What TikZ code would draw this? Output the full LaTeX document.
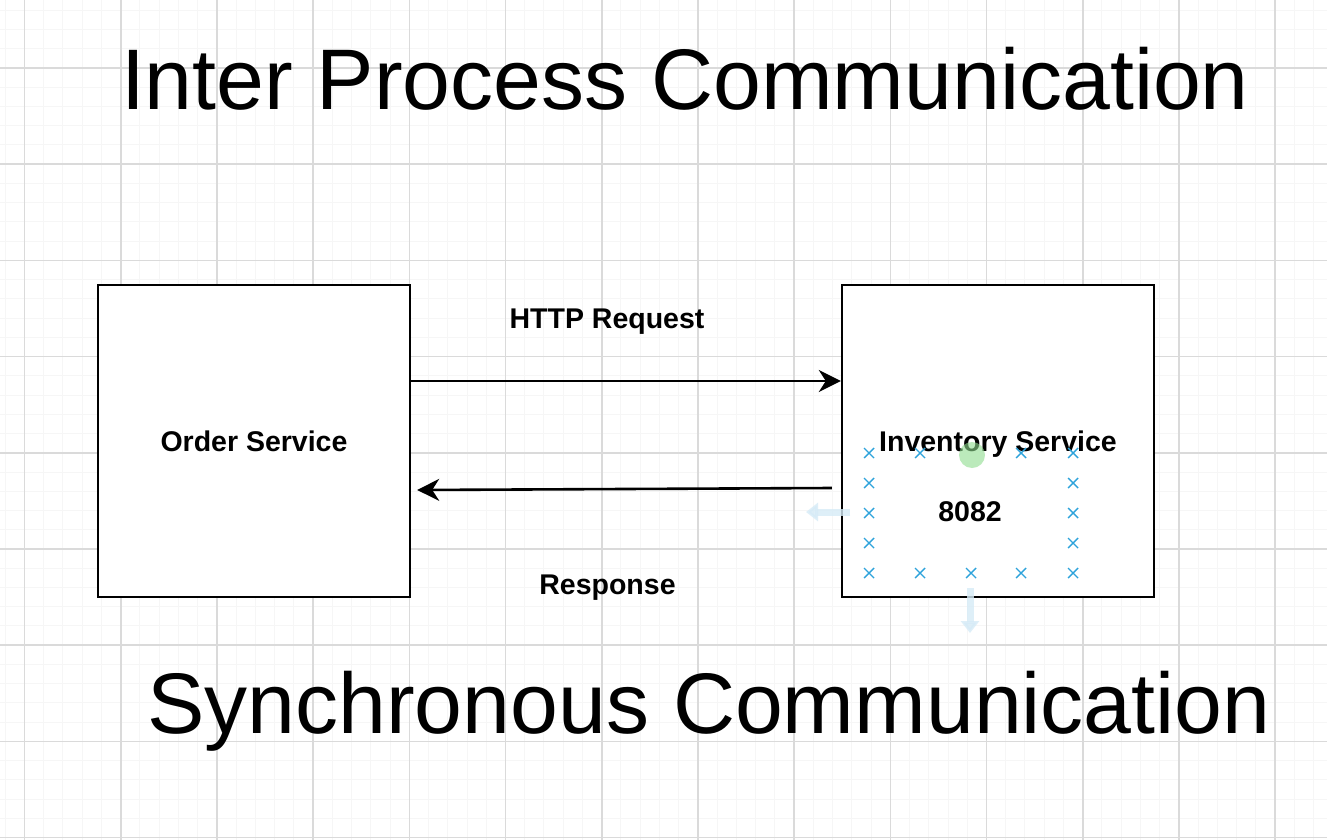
\documentclass[tikz,border=0pt]{standalone}
\usepackage{fontspec}
\setmainfont{Liberation Sans}
\usetikzlibrary{arrows.meta,positioning}
\definecolor{ink}{HTML}{000000}
\definecolor{gridmajor}{HTML}{DADADA}
\definecolor{gridminor}{HTML}{F6F6F6}
\definecolor{handle}{HTML}{2EA3DB}
\definecolor{ghost}{HTML}{D6EBF7}
\definecolor{hover}{HTML}{8FDC8F}
\tikzset{
  every picture/.style={x=1pt, y=-1pt, line width=2.4pt},
  service/.style={draw=ink, fill=white, minimum width=312pt, minimum height=312pt,
    inner sep=0pt, text depth=0pt, font=\fontsize{28.5}{34}\selectfont\bfseries},
  title/.style={font=\fontsize{86}{100}\selectfont, anchor=base, inner sep=0pt},
  lbl/.style={font=\fontsize{28.5}{34}\selectfont\bfseries, inner sep=0pt},
  arrow/.style={-{Stealth[length=22pt, width=22pt, inset=7pt]}, draw=ink, line width=2.6pt},
  minorline/.style={draw=gridminor, line width=1pt},
  majorline/.style={draw=gridmajor, line width=1.6pt},
  xmark/.style={draw=handle, line width=1.4pt},
  ghostarrow/.style={draw=ghost, line width=7pt, -{Triangle[length=12pt, width=18pt]}},
}

\begin{document}
\begin{tikzpicture}
  \useasboundingbox[fill=white] (0,0) rectangle (1327,840);
  % background grid
  \foreach \k in {-4,...,43} \draw[minorline] (0,68+19.24*\k) -- (1327,68+19.24*\k);
  \foreach \k in {-2,...,68} \draw[minorline] (24.5+19.24*\k,0) -- (24.5+19.24*\k,840);
  \foreach \k in {-1,...,8} \draw[majorline] (0,68+96.2*\k) -- (1327,68+96.2*\k);
  \foreach \k in {0,...,13} \draw[majorline] (24.5+96.2*\k,0) -- (24.5+96.2*\k,840);

  % titles
  \node[title] (ipc) at (685,110) {Inter Process Communication};
  \node[title] (sync) at (709,733) {Synchronous Communication};

  % services
  \node[service] (order) at (254,441) {Order Service};
  \node[service] (inventory) at (998,441) {Inventory Service};
  \node[lbl] (port) at (970,512) {8082};

  % calls
  \draw[arrow] ([yshift=60pt]order.east) -- node[lbl, above=45pt, xshift=-19pt] (request) {HTTP Request} ([yshift=60pt]inventory.west);
  \draw[arrow] ([shift={(-9,47)}]inventory.west) -- node[lbl, below=85pt, xshift=-17pt] (response) {Response} ([shift={(6,49)}]order.east);

  % selection handles round the port label
  \foreach \x/\y in {869/453, 920/453, 1021/453, 1073/453,
                     869/483, 1073/483, 869/513, 1073/513, 869/543, 1073/543,
                     869/573, 920/573, 971/573, 1021/573, 1073/573}
    \draw[xmark] (\x-5,\y-5) -- (\x+5,\y+5) (\x-5,\y+5) -- (\x+5,\y-5);
  \fill[hover, opacity=0.6] (972,455) circle (13);
  \draw[ghostarrow, opacity=0.8] (850,512) -- (806,512);
  \draw[ghostarrow, opacity=0.8] (970,588) -- (970,633);
\end{tikzpicture}
\end{document}
